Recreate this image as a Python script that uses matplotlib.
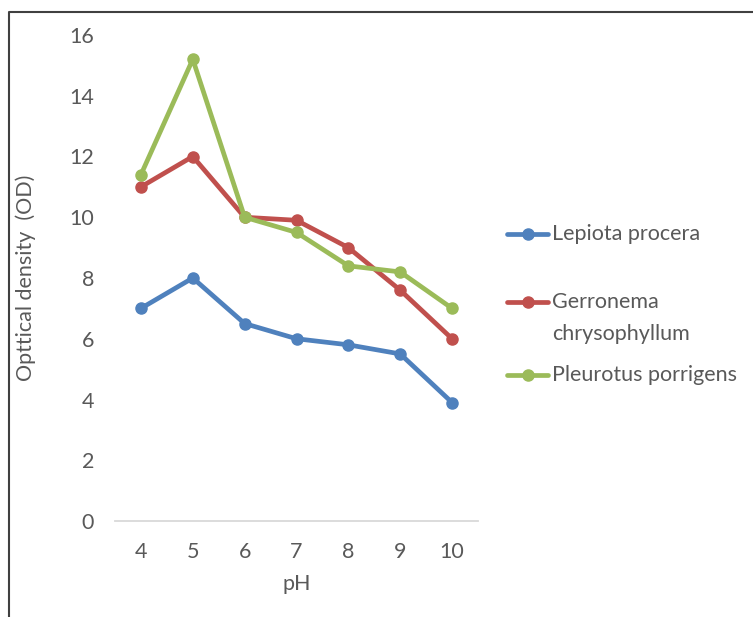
import matplotlib.pyplot as plt
from matplotlib.lines import Line2D

# 数据
ph = [4, 5, 6, 7, 8, 9, 10]
lepiota = [7.0, 8.0, 6.5, 6.0, 5.8, 5.5, 3.9]
gerronema = [11.0, 12.0, 10.0, 9.9, 9.0, 7.6, 6.0]
pleurotus = [11.4, 15.2, 10.0, 9.5, 8.4, 8.2, 7.0]
names = ["Lepiota procera", "Gerronema\nchrysophyllum", "Pleurotus porrigens"]
colors = ["#4F81BD", "#C0504D", "#9BBB59"]
yticks = [0, 2, 4, 6, 8, 10, 12, 14, 16]

plt.rcParams['font.family'] = ['Lato', 'DejaVu Sans']
txt = "#595959"
fs = 15.5

fig = plt.figure(figsize=(7.53, 6.17), dpi=100)
ax = fig.add_axes([115/753, 96/617, 363/753, 486/617])

for vals, c in zip([lepiota, gerronema, pleurotus], colors):
    ax.plot(ph, vals, color=c, lw=3.4, marker='o', ms=8, solid_capstyle='round')

ax.set_xlim(3.5, 10.5)
ax.set_ylim(0, 16)
ax.set_xticks(ph)
ax.set_yticks(yticks)
ax.tick_params(length=0, labelsize=fs, colors=txt)
ax.tick_params(axis='y', pad=15)
ax.tick_params(axis='x', pad=15)
for s in ['top', 'right', 'left']:
    ax.spines[s].set_visible(False)
ax.spines['bottom'].set_color('#D9D9D9')
ax.spines['bottom'].set_linewidth(1.3)
ax.set_xlabel("pH", fontsize=fs, color=txt, labelpad=9)
ax.set_ylabel("Opttical density  (OD)", fontsize=fs, color=txt, labelpad=24)

# 图例（手工画，Excel风格）
leg_y = [234, 318, 375]
for name, c, yy in zip(names, colors, leg_y):
    fy = 1 - yy/617
    hy = fy + (16/617 if '\n' in name else 0)
    fig.add_artist(Line2D([507/753, 548/753], [hy, hy], transform=fig.transFigure,
                          color=c, lw=3.4, solid_capstyle='round'))
    fig.add_artist(Line2D([527.5/753], [hy], transform=fig.transFigure,
                          color=c, marker='o', ms=8))
    fig.text(552/753, fy, name, fontsize=fs, color=txt, va='center', linespacing=1.75)

# 外框
fig.add_artist(Line2D([8.5/753, 8.5/753, 1], [0, 1 - 12/617, 1 - 12/617],
                      transform=fig.transFigure, color='#404040', lw=1.5))

fig.savefig("out.png", dpi=100)
